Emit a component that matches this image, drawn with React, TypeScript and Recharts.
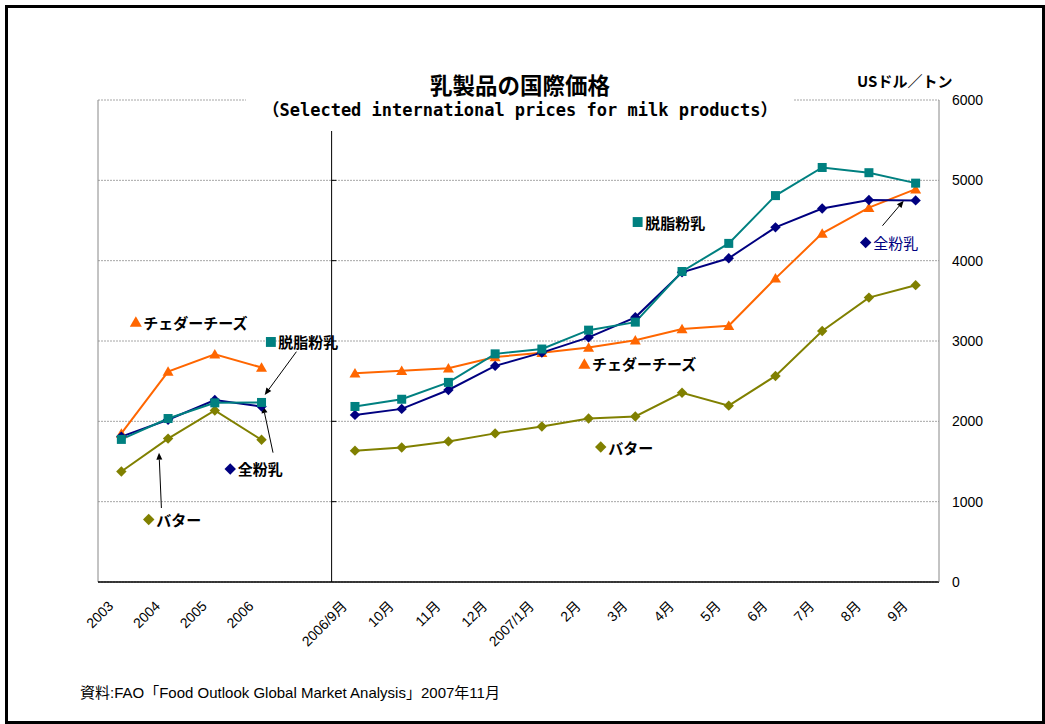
import { LineChart, Line, XAxis, YAxis, CartesianGrid, ReferenceLine, ReferenceDot } from "recharts";

// annual averages 2003-2006, then monthly quotes Sep 2006 - Sep 2007 (US$/t)
const categories = [
  "2003", "2004", "2005", "2006", "",
  "2006/9月", "10月", "11月", "12月", "2007/1月", "2月", "3月", "4月", "5月", "6月", "7月", "8月", "9月",
];
const cheddar = [1850, 2620, 2835, 2670, null, 2600, 2630, 2660, 2800, 2855, 2920, 3010, 3150, 3190, 3780, 4340, 4660, 4890];
const skim = [1775, 2035, 2230, 2235, null, 2185, 2275, 2485, 2840, 2900, 3135, 3235, 3865, 4215, 4810, 5160, 5095, 4965];
const whole = [1810, 2020, 2265, 2185, null, 2080, 2155, 2390, 2690, 2855, 3045, 3295, 3855, 4030, 4415, 4650, 4755, 4750];
const butter = [1375, 1785, 2135, 1770, null, 1635, 1675, 1750, 1850, 1935, 2035, 2060, 2355, 2195, 2565, 3125, 3540, 3695];
const yTicks = [0, 1000, 2000, 3000, 4000, 5000, 6000];

const ORANGE = "#FF6600";
const TEAL = "#008080";
const NAVY = "#000080";
const OLIVE = "#808000";
const JP = '"Noto Sans CJK JP", sans-serif';
const TICK_FONT = '"Liberation Sans", "Noto Sans CJK JP", sans-serif';

type Kind = "triangle" | "square" | "diamond";

const rows = categories.map((label, i) => ({
  idx: i,
  label,
  cheddar: cheddar[i],
  skim: skim[i],
  whole: whole[i],
  butter: butter[i],
}));

const centerTicks = categories.map((_, i) => i);
const edgeTicks = [...centerTicks, categories.length].map((i) => i - 0.5);
const xDomain = [-0.5, categories.length - 0.5];

// in-plot labels, placed in axis units
const notes: { x: number; y: number; kind: Kind; color: string; text: string; textColor?: string; bold?: boolean }[] = [
  { x: 0.31, y: 3236, kind: "triangle", color: ORANGE, text: "チェダーチーズ" },
  { x: 3.2, y: 2988, kind: "square", color: TEAL, text: "脱脂粉乳" },
  { x: 2.33, y: 1407, kind: "diamond", color: NAVY, text: "全粉乳" },
  { x: 0.585, y: 778, kind: "diamond", color: OLIVE, text: "バター" },
  { x: 11.05, y: 4481, kind: "square", color: TEAL, text: "脱脂粉乳" },
  { x: 9.91, y: 2714, kind: "triangle", color: ORANGE, text: "チェダーチーズ" },
  { x: 10.26, y: 1680, kind: "diamond", color: OLIVE, text: "バター" },
  { x: 15.93, y: 4226, kind: "diamond", color: NAVY, text: "全粉乳", textColor: NAVY, bold: false },
];

const arrows = [
  { from: [3.747, 2867], to: [3.068, 2328] },
  { from: [3.246, 1610], to: [3.032, 2191] },
  { from: [0.857, 921], to: [0.806, 1610] },
  { from: [16.29, 4435], to: [16.745, 4746] },
];

function Marker({ kind, cx, cy, color, size = 1 }: { kind: Kind; cx: number; cy: number; color: string; size?: number }) {
  if (kind === "triangle") {
    const w = 11 * size;
    const h = 9.5 * size;
    return (
      <polygon
        points={`${cx},${cy - h * 0.55} ${cx - w / 2},${cy + h * 0.45} ${cx + w / 2},${cy + h * 0.45}`}
        fill={color}
      />
    );
  }
  if (kind === "square") {
    const s = 9 * size;
    return <rect x={cx - s / 2} y={cy - s / 2} width={s} height={s} fill={color} />;
  }
  const r = 5.2 * size;
  return <polygon points={`${cx},${cy - r} ${cx + r},${cy} ${cx},${cy + r} ${cx - r},${cy}`} fill={color} />;
}

const dotFor = (kind: Kind, color: string) => (p: any) => {
  if (p.cy == null || p.value == null || Number.isNaN(p.cy)) return <g key={p.index} />;
  return <Marker key={p.index} kind={kind} cx={p.cx} cy={p.cy} color={color} />;
};

function CatTick(props: any) {
  const { x, y, payload } = props;
  const label = categories[payload.value];
  if (!label) return <g />;
  return (
    <g transform={`translate(${x - 7},${y + 25})`}>
      <text textAnchor="end" transform="rotate(-45)" fontSize={14} fontFamily={TICK_FONT} fill="#000">
        {label}
      </text>
    </g>
  );
}

function Arrow(props: any) {
  const { x1, y1, x2, y2 } = props;
  const a = Math.atan2(y2 - y1, x2 - x1);
  const len = 7;
  const half = 3;
  const bx = x2 - len * Math.cos(a);
  const by = y2 - len * Math.sin(a);
  return (
    <g>
      <line x1={x1} y1={y1} x2={bx} y2={by} stroke="#000" strokeWidth={1} />
      <polygon
        points={`${x2},${y2} ${bx + half * Math.sin(a)},${by - half * Math.cos(a)} ${bx - half * Math.sin(a)},${by + half * Math.cos(a)}`}
        fill="#000"
      />
    </g>
  );
}

function NoteShape({ cx, cy, note }: { cx: number; cy: number; note: (typeof notes)[number] }) {
  return (
    <g>
      <Marker kind={note.kind} cx={cx} cy={cy} color={note.color} size={1.1} />
      <text
        x={cx + 7.5}
        y={cy}
        dominantBaseline="central"
        fontSize={15}
        fontWeight={note.bold === false ? 400 : 700}
        fontFamily={JP}
        fill={note.textColor ?? "#000"}
      >
        {note.text}
      </text>
    </g>
  );
}

export default function App() {
  return (
    <div style={{ position: "absolute", left: 0, top: 0, width: 1045, height: 724, background: "#fff" }}>
      <LineChart width={1045} height={724} data={rows} margin={{ top: 100, right: 46, bottom: 82, left: 98 }}>
        <CartesianGrid vertical={false} stroke="#a6a6a6" strokeDasharray="2 1" />
        <XAxis
          dataKey="idx"
          type="number"
          domain={xDomain}
          ticks={centerTicks}
          interval={0}
          tickLine={false}
          tickSize={0}
          tickMargin={0}
          axisLine={{ stroke: "#000", strokeWidth: 1.5 }}
          tick={<CatTick />}
          height={60}
        />
        <XAxis
          xAxisId="edge"
          dataKey="idx"
          type="number"
          domain={xDomain}
          ticks={edgeTicks}
          interval={0}
          tick={false}
          tickLine={{ stroke: "#000" }}
          tickSize={4}
          axisLine={false}
          mirror
          height={0}
        />
        <YAxis
          orientation="right"
          domain={[0, 6000]}
          ticks={yTicks}
          interval={0}
          width={60}
          axisLine={{ stroke: "#888" }}
          tickLine={false}
          tickSize={0}
          tickMargin={13}
          tick={{ fontSize: 14, fill: "#000", fontFamily: TICK_FONT }}
        />
        <ReferenceLine x={-0.5} stroke="#888" />
        <ReferenceLine x={4.5} stroke="#000" />
        {yTicks.slice(1, -1).map((v) => (
          <ReferenceLine key={v} segment={[{ x: 4.5, y: v }, { x: 4.6, y: v }]} stroke="#000" />
        ))}
        <Line dataKey="butter" stroke={OLIVE} strokeWidth={2} dot={dotFor("diamond", OLIVE)} isAnimationActive={false} />
        <Line dataKey="cheddar" stroke={ORANGE} strokeWidth={2} dot={dotFor("triangle", ORANGE)} isAnimationActive={false} />
        <Line dataKey="whole" stroke={NAVY} strokeWidth={2} dot={dotFor("diamond", NAVY)} isAnimationActive={false} />
        <Line dataKey="skim" stroke={TEAL} strokeWidth={2} dot={dotFor("square", TEAL)} isAnimationActive={false} />
        {arrows.map((a, i) => (
          <ReferenceLine
            key={`arrow-${i}`}
            segment={[{ x: a.from[0], y: a.from[1] }, { x: a.to[0], y: a.to[1] }]}
            shape={(p: any) => <Arrow {...p} />}
          />
        ))}
        {notes.map((n, i) => (
          <ReferenceDot key={`note-${i}`} x={n.x} y={n.y} shape={(p: any) => <NoteShape cx={p.cx} cy={p.cy} note={n} />} />
        ))}
      </LineChart>

      {/* title block sits over the top of the plot on a white ground */}
      <div style={{ position: "absolute", left: 246, top: 60, width: 548, height: 71, background: "#fff" }}>
        <div
          style={{
            position: "absolute", left: 0, top: 10, width: "100%", lineHeight: "28px",
            textAlign: "center", fontFamily: JP, fontWeight: 700, fontSize: 22.5,
          }}
        >
          乳製品の国際価格
        </div>
        <div
          style={{
            position: "absolute", left: 0, top: 38, width: "100%", lineHeight: "24px",
            textAlign: "center", fontFamily: '"DejaVu Sans Mono", "Noto Sans CJK JP", monospace', fontWeight: 700, fontSize: 17,
          }}
        >
          （Selected international prices for milk products）
        </div>
      </div>
      <div style={{ position: "absolute", left: 857, top: 70, lineHeight: "22px", fontFamily: JP, fontWeight: 700, fontSize: 15 }}>
        USドル／トン
      </div>
      <div style={{ position: "absolute", left: 80, top: 682, lineHeight: "22px", fontFamily: TICK_FONT, fontSize: 15 }}>
        資料:FAO「Food Outlook Global Market Analysis」2007年11月
      </div>
      <div
        style={{
          position: "absolute", left: 5, top: 5, width: 1040, height: 719,
          border: "3px solid #000", boxSizing: "border-box", pointerEvents: "none",
        }}
      />
    </div>
  );
}
